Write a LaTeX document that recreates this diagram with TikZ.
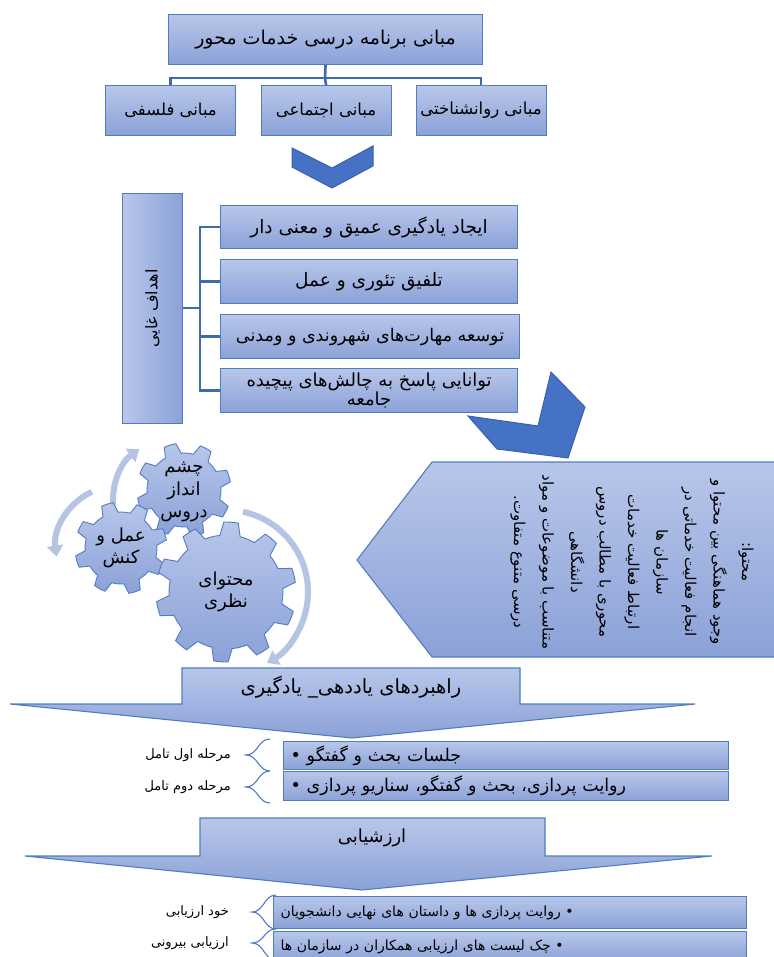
\documentclass[tikz,border=0pt]{standalone}
\usepackage{fontspec}
\usepackage{graphicx}
\usetikzlibrary{calc,arrows.meta}
\TeXXeTstate=1
\newfontfamily\ar[Script=Arabic]{DejaVu Sans}
\newcommand{\rl}[1]{\beginR #1\endR}
\newcommand{\fsz}[2]{\ar\fontsize{#1}{#2}\selectfont}
\definecolor{boxtop}{HTML}{B8C6EA}
\definecolor{boxbot}{HTML}{8BA1D7}
\definecolor{bord}{HTML}{4F7EC0}
\definecolor{connc}{HTML}{3E6AAF}
\definecolor{chevf}{HTML}{4672C6}
\definecolor{chevd}{HTML}{3A62AA}
\definecolor{arcc}{HTML}{B4C4E2}
\newcommand{\mygear}[4]{%
  \pgfmathsetmacro{\gearP}{360/#2}%
  \begin{scope}[shift={(#1)}]
  \shadedraw[gearsty] (0:#3)
   \foreach \i in {1,...,#2}{
     arc[start angle={(\i-1)*\gearP}, end angle={(\i-1)*\gearP+0.33*\gearP}, radius=#3]
     -- ({(\i-1)*\gearP+0.45*\gearP}:#4)
     arc[start angle={(\i-1)*\gearP+0.45*\gearP}, end angle={(\i-1)*\gearP+0.78*\gearP}, radius=#4]
     -- ({(\i-1)*\gearP+0.9*\gearP}:#3)
     arc[start angle={(\i-1)*\gearP+0.9*\gearP}, end angle={\i*\gearP}, radius=#3]
   } -- cycle;
  \end{scope}}
\newcommand{\mybrace}[5]{% xend, xtip, ytop, ybot, ymid
  \draw[brc] (#1,#3) .. controls ({(#1+#2)/2},#3) and ({(#1+#2)/2},#5) .. (#2,#5)
    .. controls ({(#1+#2)/2},#5) and ({(#1+#2)/2},#4) .. (#1,#4);}
\tikzset{
  bx/.style={draw=bord, line width=1.1pt, top color=boxtop, bottom color=boxbot,
    inner sep=1pt, font=\fsz{18.5}{22}, text=black},
  conn/.style={draw=connc, line width=2.6pt},
  chevsty/.style={fill=chevf, draw=chevd, line width=1pt},
  gearsty/.style={draw=bord, line width=0.9pt, top color=boxtop, bottom color=boxbot},
  arcsty/.style={draw=arcc, line width=6pt, -{Triangle[width=16pt,length=11pt]}},
  lbl/.style={font=\fsz{13}{15}, text=black, inner sep=1pt},
  brc/.style={draw=bord, line width=1.1pt},
  shp/.style={draw=bord, line width=1.1pt, top color=boxtop, bottom color=boxbot},
  gtxt/.style={font=\fsz{18}{22.5}, align=center, text=black}
}
\begin{document}
\begin{tikzpicture}[x=1pt,y=-1pt]
\useasboundingbox (0,0) rectangle (773,957);
\fill[white] (0,0) rectangle (773,957);

% top hierarchy
\node[bx, font=\fsz{19}{22}, anchor=north west, minimum width=314pt, minimum height=50pt] (top) at (168,14) {\rl{مبانی برنامه درسی خدمات محور}};
\node[bx, font=\fsz{16.5}{20}, anchor=north west, minimum width=130pt, minimum height=50pt] (c1) at (105,85) {\rl{مبانی فلسفی}};
\node[bx, font=\fsz{16.5}{20}, anchor=north west, minimum width=130pt, minimum height=50pt] (c2) at (260.5,85) {\rl{مبانی اجتماعی}};
\node[bx, font=\fsz{16.5}{20}, anchor=north west, minimum width=130pt, minimum height=50pt] (c3) at (415.5,85) {\rl{مبانی روانشناختی}};
\coordinate (hb) at (325,78);
\draw[conn] (top.south) -- (hb);
\draw[conn] (hb) -| (c1.north);
\draw[conn] (hb) -- (c2.north);
\draw[conn] (hb) -| (c3.north);

% chevron 1
\filldraw[chevsty] (292,148) -- (332,168) -- (373,146) -- (373,166) -- (332,188) -- (292,167) -- cycle;

% goals
\node[bx, font=\fsz{16}{20}, left color=boxtop, right color=boxbot, anchor=north west, minimum width=60pt, minimum height=230pt] (goal) at (122,193) {\rotatebox{90}{\rl{اهداف غایی}}};
\node[bx, anchor=north west, minimum width=297pt, minimum height=43pt] (g1) at (220,205) {\rl{ایجاد یادگیری عمیق و معنی دار}};
\node[bx, anchor=north west, minimum width=297pt, minimum height=44pt] (g2) at (220,259) {\rl{تلفیق تئوری و عمل}};
\node[bx, font=\fsz{17.5}{22}, anchor=north west, minimum width=299pt, minimum height=44pt] (g3) at (220,314) {\rl{توسعه مهارت‌های شهروندی و ومدنی}};
\node[bx, anchor=north west, minimum width=297pt, minimum height=44pt, align=center, font=\fsz{18}{19}] (g4) at (220,368) {\rl{توانایی پاسخ به چالش‌های پیچیده}\\\rl{جامعه}};
\coordinate (gv) at (200,308);
\draw[conn] (goal.east |- gv) -- (gv);
\draw[conn] (gv) |- (g1.west);
\draw[conn] (gv) |- (g2.west);
\draw[conn] (gv) |- (g3.west);
\draw[conn] (gv) |- (g4.west);

% chevron 2
\filldraw[chevsty] (551,372) -- (585,407) -- (568,458) -- (497,449) -- (468,416) -- (538,426) -- cycle;

% content pentagon
\shadedraw[shp] (776,462) -- (432,462) -- (357,560) -- (432,657) -- (776,657) -- cycle;
\node[rotate=-90, align=center, font=\fsz{15}{28.5}, text=black] (cont) at (632,562)
 {\rl{محتوا:}\\\rl{وجود هماهنگی بین محتوا و}\\\rl{انجام فعالیت خدماتی در}\\\rl{سازمان ها}\\\rl{ارتباط فعالیت خدمات}\\\rl{محوری با مطالب دروس}\\\rl{دانشگاهی}\\\rl{متناسب با موضوعات و مواد}\\\rl{درسی متنوع متفاوت.}};

% gears
\draw[arcsty] ($(226,592)+(-78:82)$) arc[start angle=-78, end angle=60, radius=82];
\draw[arcsty] ($(175,500)+(175:62)$) arc[start angle=175, end angle=235, radius=62];
\draw[arcsty] ($(118,548)+(245:62)$) arc[start angle=245, end angle=172, radius=62];
\mygear{184,490}{8}{37}{47}
\mygear{121,548}{8}{36}{46}
\mygear{226,592}{10}{57}{70}
\node[gtxt] (gtop) at (184,492) {\rl{چشم}\\\rl{انداز}\\\rl{دروس}};
\node[gtxt] (gleft) at (121,548) {\rl{عمل و}\\\rl{کنش}};
\node[gtxt] (gbig) at (226,592) {\rl{محتوای}\\\rl{نظری}};

% strategies arrow
\shadedraw[shp] (10,704) -- (182,704) -- (182,668) -- (520,668) -- (520,704) -- (695,704) -- (352,738) -- cycle;
\node[font=\fsz{19.5}{22}, text=black] (strat) at (351,687) {\rl{راهبردهای یاددهی\_ یادگیری}};
\node[bx, font=\fsz{17.5}{20}, anchor=north west, minimum width=445pt, minimum height=28pt, text width=431pt, inner xsep=7pt, align=left] (ba) at (283,741) {•\ \rl{جلسات بحث و گفتگو}};
\node[bx, font=\fsz{17.5}{20}, anchor=north west, minimum width=445pt, minimum height=29pt, text width=431pt, inner xsep=7pt, align=left] (bb) at (283,771) {•\ \rl{روایت پردازی، بحث و گفتگو، سناریو پردازی}};
\mybrace{270}{246}{739}{771}{755}
\mybrace{270}{246}{771}{803}{787}
\node[lbl, anchor=east] (la) at (232,755) {\rl{مرحله اول تامل}};
\node[lbl, anchor=east] (lb) at (232,787) {\rl{مرحله دوم تامل}};

% evaluation arrow
\shadedraw[shp] (25,856) -- (200,856) -- (200,818) -- (545,818) -- (545,856) -- (712,856) -- (362,890) -- cycle;
\node[font=\fsz{18}{20}, text=black] (eval) at (372,838) {\rl{ارزشیابی}};
\node[bx, font=\fsz{14}{17}, anchor=north west, minimum width=473pt, minimum height=32pt, text width=459pt, inner xsep=7pt, align=left] (bc) at (273,896) {\rl{روایت پردازی ها و داستان های نهایی دانشجویان}\ •};
\node[bx, font=\fsz{14}{17}, anchor=north west, minimum width=473pt, minimum height=30pt, text width=459pt, inner xsep=7pt, align=left] (bd) at (273,931) {\rl{چک لیست های ارزیابی همکاران در سازمان ها}\ •};
\mybrace{276}{252}{895}{929}{912}
\mybrace{276}{252}{929}{960}{943}
\node[lbl, anchor=east] (lc) at (230,912) {\rl{خود ارزیابی}};
\node[lbl, anchor=east] (ld) at (230,943) {\rl{ارزیابی بیرونی}};
\end{tikzpicture}
\end{document}
